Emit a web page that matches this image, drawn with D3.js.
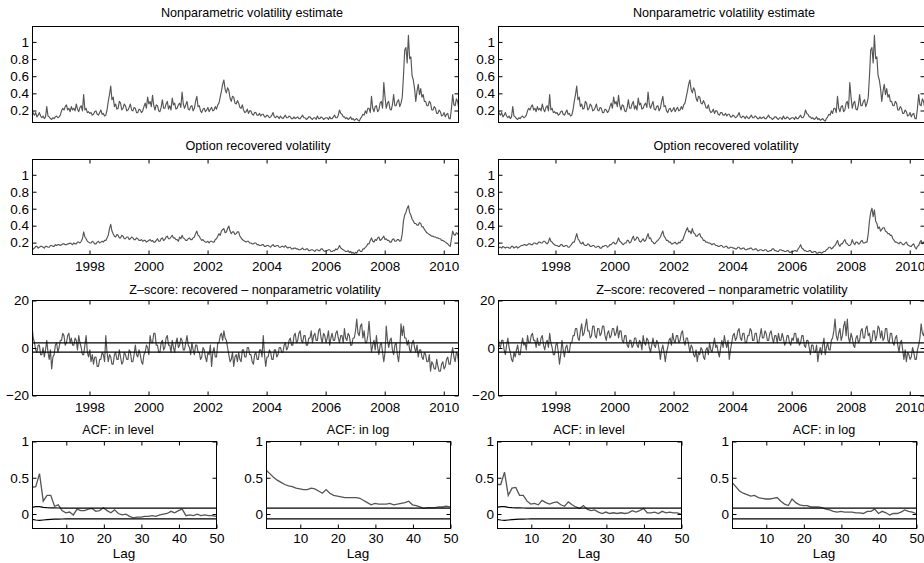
<!DOCTYPE html>
<html><head><meta charset="utf-8">
<script src="https://cdn.jsdelivr.net/npm/d3@7"></script>
<style>
body{margin:0;background:#fff}
svg{display:block}
text{font-family:"Liberation Sans",Arial,Helvetica,sans-serif;font-size:12.6px;fill:#000}
</style>
</head><body>
<svg id="chart" width="924" height="563"></svg>
<script>
// ---------- data ----------
const startYear = 1996.07;      // first (half-monthly) observation
const obsPerYear = 24;
const yearTicks = [1998, 2000, 2002, 2004, 2006, 2008, 2010];
const volTicks = [0.2, 0.4, 0.6, 0.8, 1];
const zTicks = [-20, 0, 20];
const lagTicks = [10, 20, 30, 40, 50];
const acfTicks = [0, 0.5, 1];
const zBand = [-1.96, 1.96];

const titleNonparam = "Nonparametric volatility estimate";
const titleRecovered = "Option recovered volatility";
const titleZ = "Z\u2013score: recovered \u2013 nonparametric volatility";
const titleAcfLevel = "ACF: in level";
const titleAcfLog = "ACF: in log";
const lagLabel = "Lag";

const nonparamVol = [
 0.21,0.16,0.14,0.17,0.12,0.14,0.17,0.13,0.11,0.13,0.1,0.12,0.24,0.13,0.12,0.1,0.09,0.11,0.1,0.12,0.13,0.11,0.12,0.14,
 0.19,0.22,0.2,0.24,0.26,0.2,0.22,0.18,0.24,0.2,0.22,0.19,0.27,0.21,0.18,0.23,0.25,0.19,0.38,0.2,0.22,0.17,0.18,0.16,
 0.17,0.14,0.15,0.18,0.19,0.15,0.14,0.17,0.2,0.15,0.16,0.13,0.14,0.2,0.3,0.38,0.48,0.32,0.35,0.24,0.27,0.21,0.22,0.3,
 0.28,0.2,0.22,0.27,0.25,0.19,0.2,0.23,0.27,0.2,0.19,0.23,0.22,0.17,0.17,0.21,0.2,0.17,0.19,0.24,0.28,0.22,0.35,0.27,
 0.3,0.24,0.37,0.25,0.2,0.26,0.25,0.19,0.18,0.23,0.32,0.22,0.22,0.27,0.3,0.21,0.25,0.2,0.34,0.26,0.28,0.21,0.22,0.26,
 0.28,0.23,0.41,0.27,0.22,0.26,0.3,0.21,0.2,0.24,0.25,0.19,0.22,0.3,0.36,0.24,0.25,0.19,0.17,0.21,0.22,0.18,0.2,0.23,
 0.18,0.21,0.23,0.19,0.2,0.24,0.21,0.26,0.28,0.35,0.42,0.5,0.55,0.44,0.4,0.46,0.43,0.34,0.3,0.36,0.35,0.28,0.27,0.31,
 0.28,0.23,0.22,0.26,0.2,0.17,0.18,0.21,0.16,0.19,0.19,0.15,0.14,0.17,0.17,0.14,0.14,0.16,0.13,0.15,0.15,0.12,0.12,0.14,
 0.13,0.11,0.12,0.14,0.17,0.12,0.11,0.13,0.12,0.1,0.13,0.11,0.1,0.12,0.14,0.11,0.11,0.13,0.12,0.1,0.1,0.12,0.1,0.11,
 0.12,0.1,0.1,0.12,0.14,0.11,0.11,0.09,0.1,0.12,0.12,0.1,0.09,0.11,0.11,0.09,0.13,0.1,0.1,0.12,0.11,0.09,0.1,0.11,
 0.11,0.09,0.12,0.1,0.1,0.12,0.14,0.11,0.11,0.14,0.2,0.16,0.15,0.12,0.12,0.1,0.11,0.09,0.1,0.12,0.09,0.1,0.08,0.09,
 0.1,0.08,0.07,0.1,0.12,0.15,0.14,0.19,0.16,0.22,0.22,0.17,0.36,0.22,0.18,0.24,0.25,0.18,0.2,0.28,0.3,0.22,0.52,0.35,
 0.22,0.28,0.3,0.21,0.2,0.26,0.38,0.25,0.25,0.3,0.32,0.24,0.28,0.35,0.6,0.9,0.93,0.75,1.07,0.8,0.82,0.6,0.55,0.45,
 0.3,0.42,0.5,0.38,0.45,0.35,0.38,0.3,0.3,0.25,0.25,0.3,0.28,0.2,0.2,0.24,0.22,0.16,0.16,0.2,0.18,0.13,0.14,0.17,
 0.12,0.15,0.16,0.1,0.1,0.22,0.38,0.26,0.25,0.33,0.3,0.22
];

const recoveredVolA = [
 0.1,0.12,0.13,0.15,0.15,0.13,0.14,0.15,0.15,0.14,0.13,0.15,0.15,0.14,0.14,0.16,0.16,0.15,0.15,0.17,0.16,0.17,0.17,0.16,
 0.17,0.18,0.18,0.17,0.17,0.18,0.18,0.19,0.18,0.17,0.19,0.18,0.18,0.2,0.2,0.19,0.21,0.24,0.32,0.26,0.24,0.21,0.2,0.19,
 0.19,0.21,0.2,0.18,0.18,0.2,0.21,0.19,0.2,0.21,0.2,0.22,0.22,0.25,0.28,0.36,0.41,0.33,0.3,0.27,0.26,0.29,0.28,0.25,
 0.25,0.28,0.27,0.24,0.24,0.26,0.26,0.23,0.24,0.26,0.25,0.23,0.23,0.25,0.24,0.22,0.22,0.23,0.21,0.22,0.22,0.2,0.21,0.22,
 0.23,0.21,0.22,0.2,0.2,0.22,0.24,0.21,0.21,0.24,0.25,0.22,0.23,0.26,0.27,0.24,0.24,0.26,0.28,0.25,0.25,0.23,0.23,0.21,
 0.26,0.24,0.28,0.25,0.24,0.22,0.22,0.24,0.25,0.23,0.23,0.25,0.26,0.3,0.33,0.28,0.27,0.24,0.22,0.23,0.21,0.2,0.2,0.21,
 0.19,0.21,0.21,0.2,0.2,0.23,0.24,0.27,0.3,0.28,0.33,0.35,0.36,0.31,0.32,0.36,0.39,0.33,0.3,0.32,0.32,0.29,0.3,0.32,
 0.32,0.27,0.25,0.23,0.22,0.21,0.2,0.21,0.21,0.19,0.19,0.18,0.18,0.19,0.19,0.17,0.17,0.16,0.16,0.17,0.17,0.15,0.15,0.16,
 0.16,0.15,0.14,0.16,0.17,0.15,0.15,0.16,0.16,0.14,0.14,0.15,0.15,0.14,0.16,0.14,0.13,0.14,0.14,0.12,0.12,0.13,0.13,0.12,
 0.12,0.11,0.11,0.12,0.13,0.11,0.11,0.12,0.12,0.1,0.1,0.11,0.11,0.1,0.09,0.11,0.11,0.1,0.1,0.12,0.12,0.1,0.09,0.1,
 0.1,0.11,0.11,0.09,0.09,0.1,0.1,0.12,0.11,0.13,0.16,0.13,0.12,0.11,0.1,0.09,0.09,0.1,0.08,0.09,0.07,0.08,0.06,0.08,
 0.07,0.1,0.11,0.09,0.09,0.12,0.12,0.14,0.15,0.18,0.18,0.22,0.25,0.21,0.2,0.23,0.22,0.25,0.26,0.22,0.23,0.25,0.27,0.23,
 0.24,0.22,0.22,0.2,0.2,0.23,0.24,0.21,0.21,0.23,0.23,0.21,0.22,0.3,0.45,0.52,0.55,0.6,0.63,0.55,0.52,0.47,0.45,0.42,
 0.42,0.4,0.4,0.43,0.42,0.38,0.38,0.35,0.33,0.31,0.3,0.29,0.28,0.27,0.27,0.26,0.26,0.25,0.25,0.24,0.24,0.22,0.22,0.21,
 0.2,0.19,0.18,0.16,0.15,0.24,0.33,0.29,0.28,0.31,0.3,0.28
];

const recoveredVolB = [
 0.12,0.14,0.14,0.13,0.15,0.14,0.13,0.14,0.14,0.13,0.13,0.15,0.15,0.13,0.14,0.15,0.13,0.14,0.15,0.16,0.16,0.17,0.17,0.16,
 0.17,0.18,0.18,0.17,0.17,0.19,0.19,0.18,0.18,0.2,0.2,0.19,0.19,0.21,0.21,0.19,0.18,0.2,0.25,0.21,0.2,0.18,0.17,0.16,
 0.16,0.15,0.15,0.17,0.17,0.15,0.15,0.16,0.16,0.14,0.14,0.16,0.18,0.2,0.2,0.25,0.3,0.24,0.22,0.19,0.18,0.2,0.17,0.16,
 0.16,0.18,0.17,0.15,0.15,0.16,0.16,0.14,0.14,0.15,0.15,0.13,0.13,0.15,0.15,0.16,0.16,0.14,0.15,0.17,0.17,0.19,0.2,0.18,
 0.18,0.21,0.25,0.21,0.2,0.18,0.17,0.19,0.19,0.22,0.22,0.19,0.2,0.24,0.27,0.22,0.23,0.26,0.25,0.21,0.2,0.22,0.24,0.21,
 0.22,0.26,0.3,0.24,0.25,0.21,0.2,0.18,0.19,0.21,0.22,0.24,0.26,0.3,0.33,0.27,0.25,0.22,0.22,0.2,0.2,0.18,0.18,0.19,
 0.2,0.18,0.18,0.2,0.19,0.22,0.22,0.26,0.3,0.34,0.37,0.32,0.33,0.3,0.36,0.31,0.3,0.27,0.27,0.29,0.3,0.26,0.25,0.22,
 0.22,0.2,0.2,0.19,0.19,0.18,0.17,0.18,0.18,0.16,0.16,0.15,0.15,0.16,0.16,0.14,0.14,0.15,0.15,0.13,0.13,0.14,0.14,0.13,
 0.13,0.12,0.12,0.14,0.14,0.12,0.12,0.13,0.13,0.11,0.11,0.12,0.12,0.13,0.13,0.11,0.11,0.12,0.12,0.1,0.1,0.11,0.11,0.1,
 0.1,0.11,0.11,0.09,0.09,0.1,0.1,0.12,0.12,0.1,0.1,0.09,0.09,0.11,0.11,0.1,0.1,0.09,0.09,0.1,0.1,0.08,0.08,0.09,
 0.09,0.1,0.1,0.09,0.12,0.14,0.17,0.13,0.12,0.1,0.1,0.09,0.09,0.1,0.1,0.08,0.08,0.09,0.09,0.07,0.07,0.08,0.08,0.07,
 0.08,0.09,0.09,0.11,0.12,0.14,0.14,0.12,0.13,0.15,0.16,0.19,0.22,0.17,0.15,0.18,0.18,0.21,0.23,0.19,0.18,0.16,0.16,0.18,
 0.23,0.19,0.17,0.2,0.2,0.18,0.18,0.21,0.22,0.19,0.19,0.2,0.2,0.3,0.45,0.55,0.6,0.5,0.58,0.45,0.42,0.36,0.38,0.33,
 0.35,0.37,0.37,0.33,0.32,0.3,0.3,0.28,0.28,0.24,0.22,0.2,0.2,0.19,0.18,0.2,0.19,0.17,0.17,0.19,0.2,0.17,0.16,0.15,
 0.15,0.17,0.18,0.14,0.12,0.15,0.16,0.2,0.22,0.18,0.2,0.19
];

const zScoreA = [
 9,4,2,-1,-2,1,1,-3,-3,0,-4,-1,3,-2,-5,-1,-9,-4,-3,1,2,-2,0,3,
 3,6,5,1,2,5,6,2,4,1,1,4,3,-1,5,2,0,-3,-3,1,5,-2,-4,-1,
 -6,-3,-7,-4,-4,-8,-8,-5,-5,-2,-3,-6,5,-2,-6,-3,-4,-7,-7,-3,-2,-5,-5,-1,
 -4,-7,-6,-2,-3,-5,-5,-1,-2,-6,-6,-3,1,-3,-4,-1,-3,-6,-7,-3,-2,1,0,-3,
 5,2,2,6,6,1,1,-2,-2,2,3,-1,0,4,5,1,1,-2,3,0,-2,2,4,0,
 1,4,3,-1,-1,2,5,1,0,-3,2,-1,-3,1,1,-2,-2,-5,-4,0,-1,-4,-6,-2,
 -3,1,-8,-2,0,-4,-4,2,2,5,6,3,7,4,3,0,-3,-6,-5,-2,-8,-4,-3,-6,
 -2,-5,-6,-1,-1,-4,-4,0,0,-3,-3,-6,-7,-3,-2,-5,-5,-1,-1,-4,5,-3,-8,-4,
 -4,-1,-2,-5,-5,-1,-1,-4,-3,0,0,-2,-2,1,2,-1,0,3,4,1,1,5,6,2,
 3,6,7,3,2,5,5,1,1,4,4,7,2,5,6,3,3,7,8,4,2,6,5,2,
 4,7,1,4,6,3,3,6,7,4,2,5,5,2,8,4,3,6,5,1,1,4,4,7,
 12,6,5,9,10,4,7,2,2,5,11,4,-2,1,3,-1,5,0,-3,1,2,-2,-6,-2,
 9,3,0,3,4,-1,-3,1,2,-3,-6,-1,10,5,9,4,4,1,3,-1,-2,2,3,0,
 -2,1,-4,-1,-1,-4,-5,-2,-3,-6,-6,-3,-10,-6,-7,-9,-9,-5,-8,-10,-10,-7,-6,-9,
 -8,-5,-4,-7,-7,-3,0,-4,-6,-2,-3,-7
];

const zScoreB = [
 5,1,0,3,3,-1,-3,1,4,0,-2,-5,-6,-2,-4,-1,1,-3,-3,1,4,1,2,-1,
 5,2,2,5,6,3,3,0,4,1,1,4,5,1,-1,2,3,0,6,2,0,-3,-3,1,
 2,-2,-7,-3,3,-1,-4,0,1,-2,-2,2,2,5,5,8,8,4,3,7,10,5,6,9,
 12,7,7,4,5,9,9,5,4,8,8,5,6,9,9,5,3,6,7,4,5,8,8,5,
 6,9,4,7,7,3,2,5,5,1,0,3,3,0,1,4,4,1,0,3,2,-1,5,2,
 1,4,3,0,-2,1,4,1,0,3,2,-1,-5,-1,1,-2,-6,-2,0,3,4,1,6,3,
 2,5,5,2,3,6,7,3,1,4,4,1,-2,1,0,-3,-4,-1,-6,-2,-3,0,-1,-4,
 -5,-1,0,-3,2,-1,-2,1,4,0,1,-2,-4,0,3,0,5,2,0,3,-5,-1,2,5,
 6,3,4,7,8,4,3,6,6,2,2,5,5,8,7,3,3,6,6,2,2,5,8,4,
 4,7,6,3,3,6,7,4,2,5,5,2,6,3,3,6,4,1,2,5,5,2,1,4,
 3,6,6,2,4,1,2,5,5,1,0,3,3,0,-3,1,1,-2,-2,1,-6,-2,0,-3,
 1,4,-3,0,2,-1,-1,3,4,7,12,5,3,6,8,3,5,9,11,5,12,4,2,6,
 4,1,0,4,5,2,3,7,8,4,4,8,9,5,6,2,3,7,7,3,5,9,8,4,
 7,3,4,8,8,3,2,6,6,2,1,4,5,1,-2,2,3,-1,-5,-1,-6,-2,-3,-5,
 -4,0,-2,-5,-5,-1,1,4,10,6,5,8
];

// ACF, lags 1..50
const acfLevelA = [0.36,0.37,0.55,0.17,0.25,0.25,0.1,0.12,0.04,0.01,
 0.02,-0.02,0.06,0.04,0.04,0.06,0.07,0.03,0.04,0.08,
 0.04,0.01,0.05,0.0,-0.02,-0.01,-0.04,-0.06,-0.05,-0.05,
 -0.04,-0.04,-0.03,-0.04,-0.02,-0.01,0.0,0.03,0.01,0.04,
 0.06,-0.03,-0.02,-0.03,-0.01,-0.03,-0.02,-0.03,-0.03,-0.04];
const acfLogA = [0.6,0.55,0.5,0.46,0.43,0.4,0.38,0.37,0.35,0.34,
 0.33,0.33,0.35,0.34,0.31,0.28,0.33,0.28,0.25,0.24,
 0.23,0.22,0.22,0.22,0.22,0.21,0.18,0.15,0.12,0.14,
 0.13,0.13,0.13,0.14,0.12,0.13,0.14,0.15,0.17,0.12,
 0.11,0.09,0.07,0.08,0.08,0.08,0.09,0.09,0.1,0.09];
const acfLevelB = [0.4,0.4,0.57,0.25,0.35,0.36,0.25,0.25,0.17,0.13,
 0.14,0.12,0.18,0.15,0.13,0.15,0.16,0.12,0.1,0.16,
 0.12,0.09,0.07,0.11,0.06,0.04,0.05,0.02,0.0,0.02,
 0.0,0.01,0.0,0.01,0.0,0.01,0.04,0.02,0.04,0.07,
 0.01,0.01,0.02,0.0,0.03,0.01,0.02,0.01,0.01,-0.01];
const acfLogB = [0.43,0.37,0.31,0.28,0.26,0.24,0.25,0.22,0.21,0.2,
 0.2,0.21,0.22,0.17,0.13,0.11,0.2,0.15,0.12,0.11,
 0.11,0.09,0.09,0.09,0.08,0.06,0.05,0.03,0.02,0.03,
 0.02,0.02,0.02,0.01,0.01,0.0,0.03,0.03,0.06,0.0,
 0.03,0.01,-0.02,0.0,0.0,0.02,0.05,0.03,0.02,0.0];
// confidence bands (upper / lower) by lag
const bandLevelUpper = [0.085,0.095,0.095,0.085,0.08,0.078,0.077,0.076,0.075,0.075,
 0.075,0.075,0.075,0.075,0.075,0.075,0.075,0.075,0.075,0.075,
 0.075,0.075,0.075,0.075,0.075,0.075,0.075,0.075,0.075,0.075,
 0.075,0.075,0.075,0.075,0.075,0.075,0.075,0.075,0.075,0.075,
 0.075,0.075,0.075,0.075,0.075,0.075,0.075,0.075,0.075,0.075];
const bandLevelLower = [-0.08,-0.09,-0.095,-0.09,-0.085,-0.08,-0.078,-0.077,-0.076,-0.075,
 -0.075,-0.075,-0.075,-0.075,-0.075,-0.075,-0.075,-0.075,-0.075,-0.075,
 -0.075,-0.075,-0.075,-0.075,-0.075,-0.075,-0.075,-0.075,-0.075,-0.075,
 -0.075,-0.075,-0.075,-0.075,-0.075,-0.075,-0.075,-0.075,-0.075,-0.075,
 -0.075,-0.075,-0.075,-0.075,-0.075,-0.075,-0.075,-0.075,-0.075,-0.075];
const bandLog = [-0.075, 0.075];

// ---------- drawing ----------
const svg = d3.select("#chart");
const lineColor = "#555555";
const tickFont = "13.5px";
const fmt = d => String(d).replace("-", "\u2212");
let clipId = 0;

function frame(g, x0, x1, y0, y1) {
  g.append("rect").attr("x", x0 + 0.5).attr("y", y0 + 0.5)
    .attr("width", x1 - x0).attr("height", y1 - y0)
    .attr("fill", "none").attr("stroke", "#000").attr("stroke-width", 1);
}

function clip(x0, x1, y0, y1) {
  const id = "clip" + (clipId++);
  svg.append("clipPath").attr("id", id).append("rect")
    .attr("x", x0).attr("y", y0).attr("width", x1 - x0 + 1).attr("height", y1 - y0 + 1);
  return "url(#" + id + ")";
}

function styleAxis(sel, showText) {
  sel.select(".domain").remove();
  sel.selectAll(".tick line").attr("stroke", "#000");
  if (!showText) sel.selectAll(".tick text").remove();
  sel.selectAll(".tick text").style("font-size", tickFont).attr("fill", "#000");
}

function axes(x, y, box, opt) {
  const {x0, x1, y0, y1} = box;
  const g = svg.append("g");
  if (opt.xTicks) {
    g.append("g").attr("transform", `translate(0.5,${y1 + 0.5})`)
      .call(d3.axisBottom(x).tickValues(opt.xTicks).tickSizeInner(-4).tickSizeOuter(0)
        .tickPadding(opt.xPad).tickFormat(fmt))
      .call(s => styleAxis(s, true));
    g.append("g").attr("transform", `translate(0.5,${y0 + 0.5})`)
      .call(d3.axisTop(x).tickValues(opt.xTicks).tickSizeInner(-4).tickSizeOuter(0))
      .call(s => styleAxis(s, false));
  }
  g.append("g").attr("transform", `translate(${x0 + 0.5},0.5)`)
    .call(d3.axisLeft(y).tickValues(opt.yTicks).tickSizeInner(-4).tickSizeOuter(0)
      .tickPadding(3.5).tickFormat(fmt))
    .call(s => styleAxis(s, true));
  g.append("g").attr("transform", `translate(${x1 + 0.5},0.5)`)
    .call(d3.axisRight(y).tickValues(opt.yTicks).tickSizeInner(-4).tickSizeOuter(0))
    .call(s => styleAxis(s, false));
  frame(g, x0, x1, y0, y1);
}

function title(txt, cx, baseline) {
  svg.append("text").attr("x", cx).attr("y", baseline).attr("text-anchor", "middle").text(txt);
}

const timeDomain = [1996.07, 2010.5];
function tsPanel(box, values, yDomain, yTicks, xTicks, xPad, bands) {
  const x = d3.scaleLinear().domain(timeDomain).range([box.x0, box.x1]);
  const y = d3.scaleLinear().domain(yDomain).range([box.y1, box.y0]);
  const cp = clip(box.x0, box.x1, box.y0, box.y1);
  const line = d3.line().x((d, i) => x(startYear + i / obsPerYear)).y(d => y(d));
  svg.append("path").datum(values).attr("d", line).attr("clip-path", cp)
    .attr("fill", "none").attr("stroke", lineColor).attr("stroke-width", 1.15)
    .attr("stroke-linejoin", "round");
  if (bands) {
    bands.forEach(b => {
      svg.append("line").attr("x1", box.x0).attr("x2", box.x1)
        .attr("y1", y(b)).attr("y2", y(b)).attr("stroke", "#000").attr("stroke-width", 1.3);
    });
  }
  axes(x, y, box, {xTicks, yTicks, xPad});
}

function acfPanel(box, values, upper, lower) {
  const x = d3.scaleLinear().domain([1, 50]).range([box.x0, box.x1]);
  const y = d3.scaleLinear().domain([-0.2, 1]).range([box.y1, box.y0]);
  const cp = clip(box.x0, box.x1, box.y0, box.y1);
  const line = d3.line().x((d, i) => x(i + 1)).y(d => y(d));
  svg.append("path").datum(values).attr("d", line).attr("clip-path", cp)
    .attr("fill", "none").attr("stroke", lineColor).attr("stroke-width", 1.3);
  [upper, lower].forEach(b => {
    svg.append("path").datum(b).attr("d", line).attr("clip-path", cp)
      .attr("fill", "none").attr("stroke", "#000").attr("stroke-width", 1.2);
  });
  axes(x, y, box, {xTicks: lagTicks, yTicks: acfTicks, xPad: 5});
  svg.append("text").attr("x", (box.x0 + box.x1) / 2).attr("y", 558)
    .attr("text-anchor", "middle").style("font-size", tickFont).text(lagLabel);
}

const cols = [
  {x0: 32, x1: 458, rec: recoveredVolA, z: zScoreA, lev: acfLevelA, log: acfLogA,
   acf1: [32, 216], acf2: [266, 450], tc: [252, 258, 255, 118, 358]},
  {x0: 498, x1: 924, rec: recoveredVolB, z: zScoreB, lev: acfLevelB, log: acfLogB,
   acf1: [497, 681], acf2: [732, 916], tc: [724, 726, 722, 589, 824]}
];
const volDomain = [0.06, 1.18];
const rowTop = {y0: 26, y1: 122}, rowMid = {y0: 159, y1: 254},
      rowZ = {y0: 300, y1: 395}, rowAcf = {y0: 441, y1: 528};

cols.forEach(c => {
  tsPanel({x0: c.x0, x1: c.x1, ...rowTop}, nonparamVol, volDomain, volTicks, null, 6, null);
  title(titleNonparam, c.tc[0], 17);
  tsPanel({x0: c.x0, x1: c.x1, ...rowMid}, c.rec, volDomain, volTicks, yearTicks, 6.5, null);
  title(titleRecovered, c.tc[1], 150);
  tsPanel({x0: c.x0, x1: c.x1, ...rowZ}, c.z, [-20, 20], zTicks, yearTicks, 6.5, zBand);
  title(titleZ, c.tc[2], 294);
  acfPanel({x0: c.acf1[0], x1: c.acf1[1], ...rowAcf}, c.lev, bandLevelUpper, bandLevelLower);
  title(titleAcfLevel, c.tc[3], 434);
  acfPanel({x0: c.acf2[0], x1: c.acf2[1], ...rowAcf}, c.log,
    c.log.map(() => bandLog[1]), c.log.map(() => bandLog[0]));
  title(titleAcfLog, c.tc[4], 434);
});
</script>
</body></html>
